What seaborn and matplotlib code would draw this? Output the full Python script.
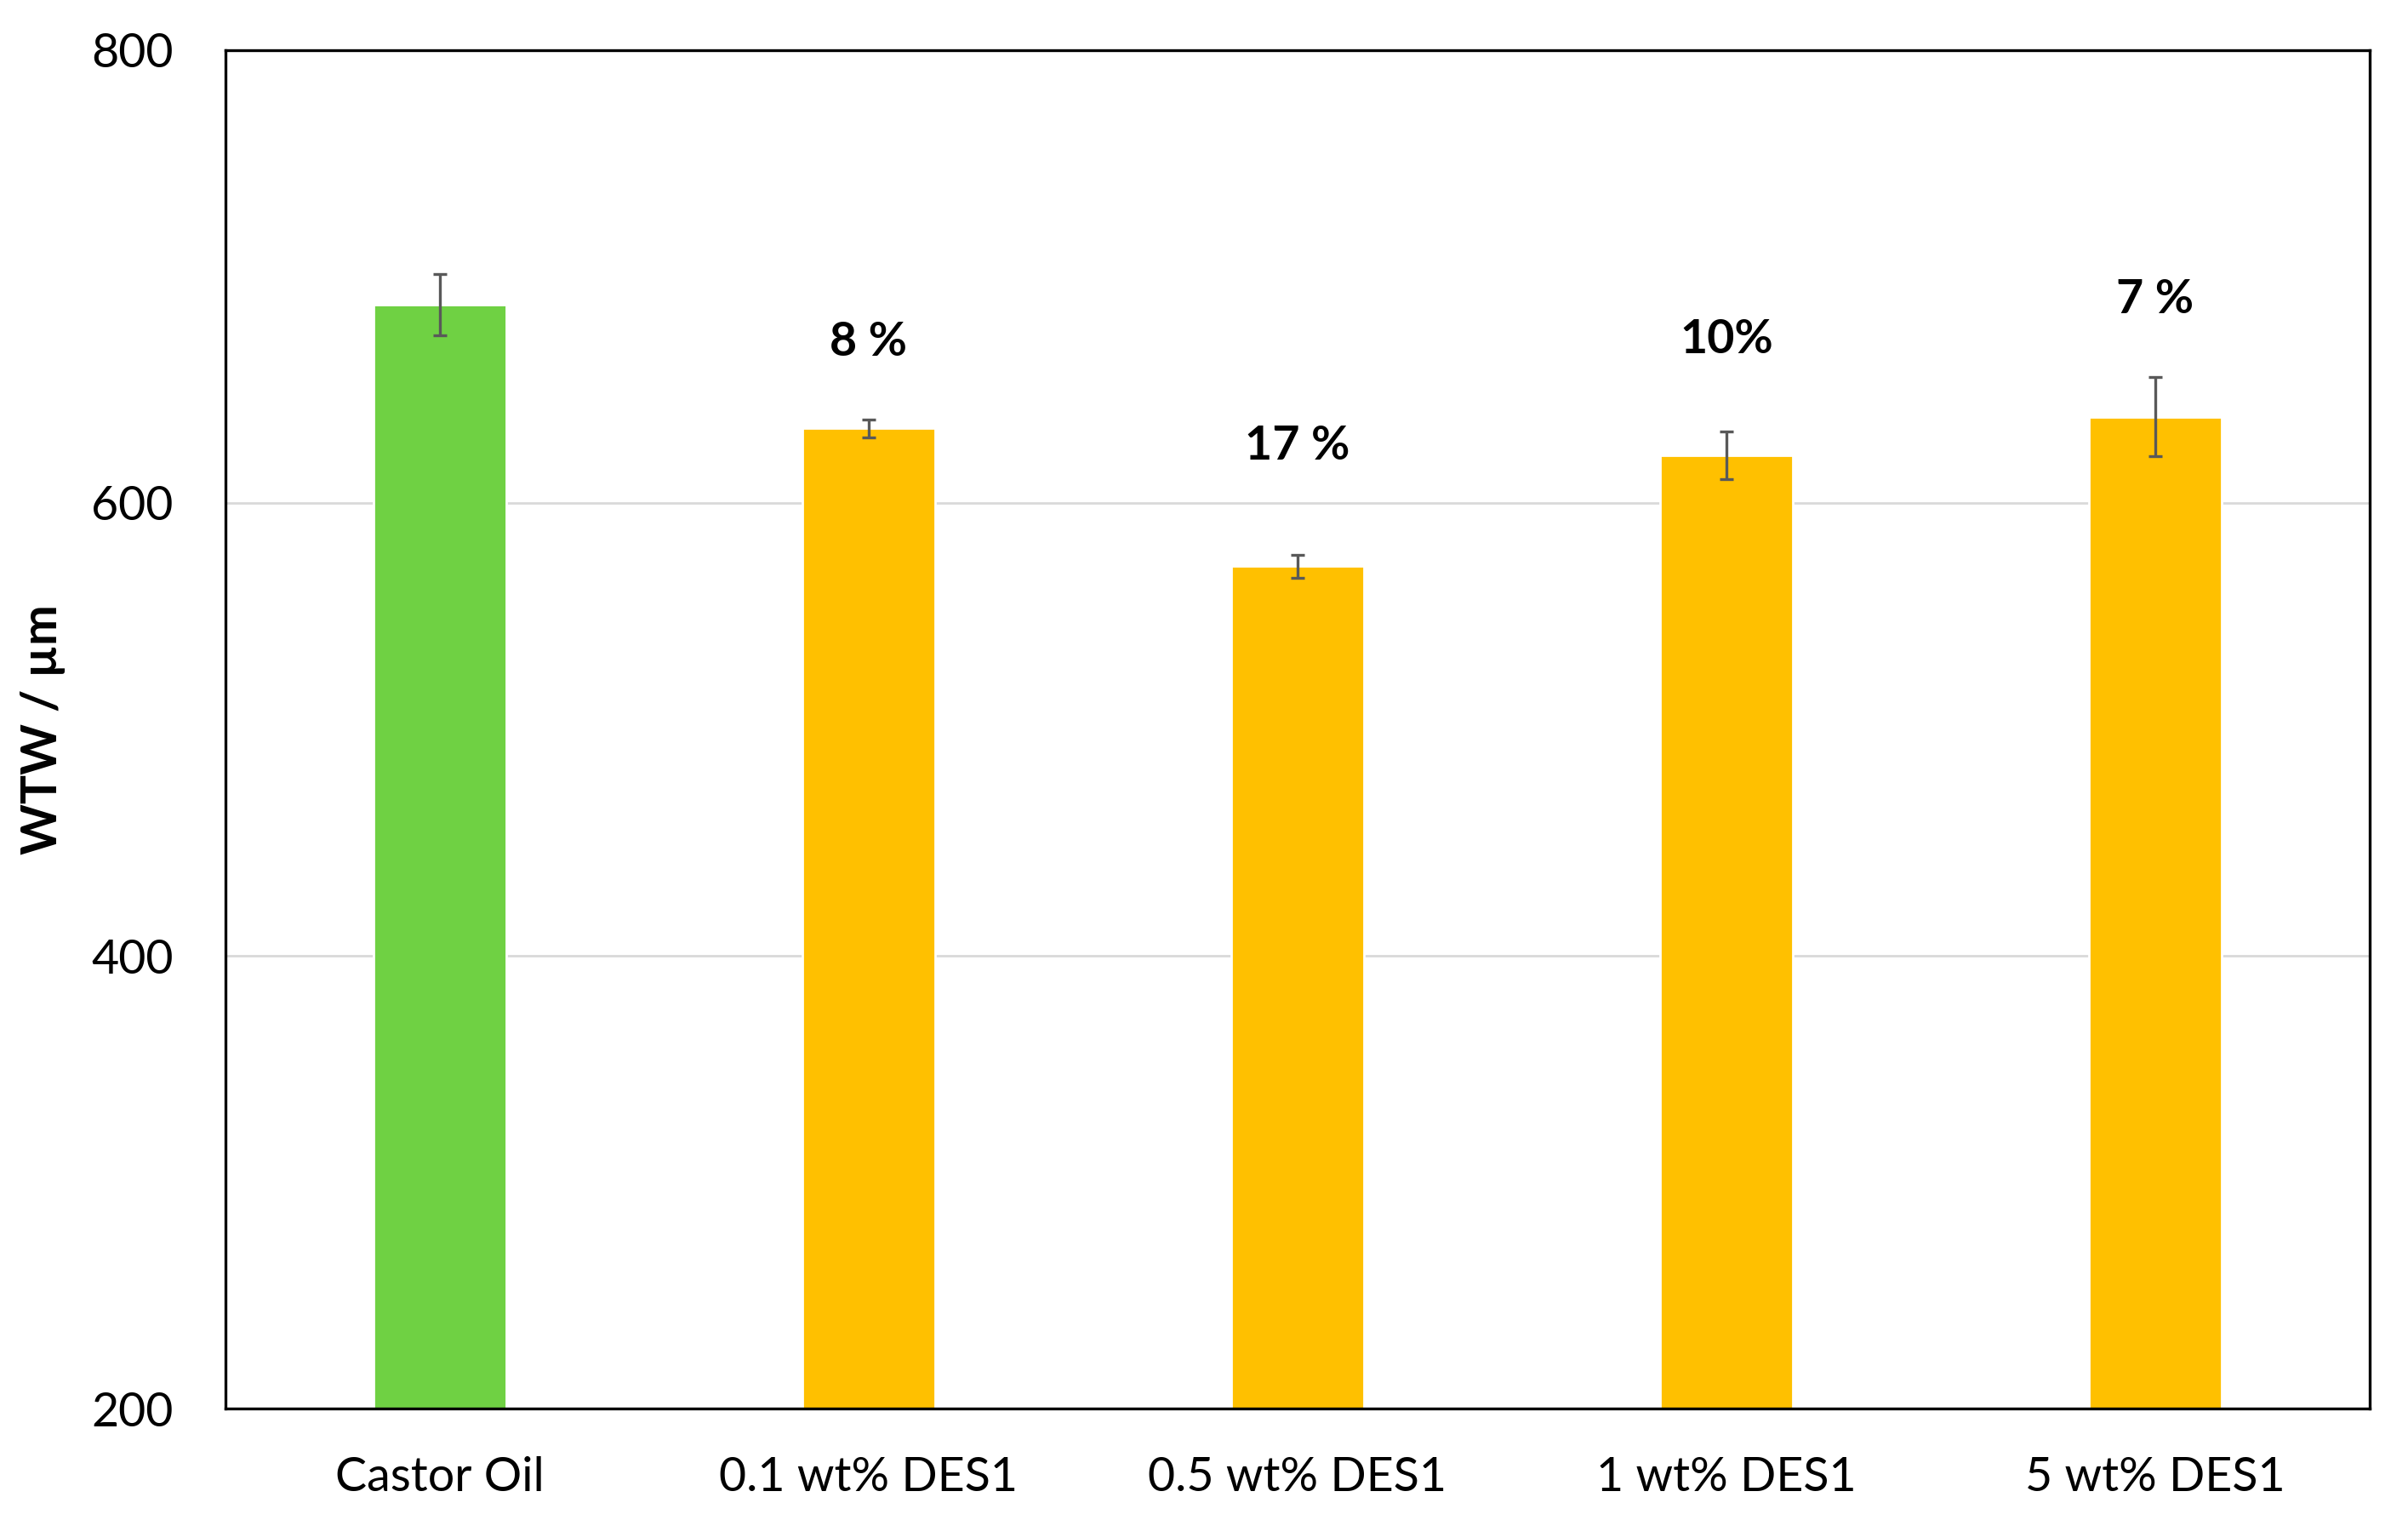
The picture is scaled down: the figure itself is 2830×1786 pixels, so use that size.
import pandas as pd
import matplotlib.pyplot as plt
import seaborn as sns

categories = ["Castor Oil", "0.1 wt% DES1", "0.5 wt% DES1", "1 wt% DES1", "5 wt% DES1"]
wtw = [687.5, 633, 572, 621, 638]
wtw_err = [13.5, 4, 5, 10.5, 17.5]
labels = ["", "8 %", "17 %", "10%", "7 %"]
label_y = [None, 671, 625, 672, 690]
colors = ["#6fd143", "#ffc000", "#ffc000", "#ffc000", "#ffc000"]

df = pd.DataFrame({"sample": categories, "wtw": wtw})

sns.set_style("white")
plt.rcParams['font.family'] = ['Lato', 'DejaVu Sans']
plt.rcParams['text.color'] = 'black'
plt.rcParams['axes.labelcolor'] = 'black'
plt.rcParams['xtick.color'] = 'black'
plt.rcParams['ytick.color'] = 'black'

fig = plt.figure(figsize=(14.15, 8.93), dpi=200)
ax = fig.add_axes([0.0936, 0.0733, 0.8904, 0.8937])

sns.barplot(data=df, x="sample", y="wtw", hue="sample", palette=colors,
            width=0.31, saturation=1, legend=False, ax=ax, zorder=2)
ax.errorbar(range(len(categories)), wtw, yerr=wtw_err, fmt="none",
            ecolor="#595959", elinewidth=1.2, capsize=3, capthick=1.2, zorder=3)

for i, (lab, yy) in enumerate(zip(labels, label_y)):
    if lab:
        ax.text(i, yy, lab, ha="center", va="center", fontsize=20, fontweight="bold")

ax.set_xlim(-0.5, len(categories) - 0.5)
ax.set_ylim(200, 800)
ax.set_yticks([200, 400, 600, 800])
ax.yaxis.grid(True, color="#d9d9d9", linewidth=1, zorder=0)
ax.set_axisbelow(True)
ax.set_xlabel("")
ax.set_ylabel("WTW / µm", fontsize=20.5, fontweight="bold", labelpad=11)
ax.tick_params(axis="y", length=0, pad=22, labelsize=20)
ax.tick_params(axis="x", length=0, pad=20, labelsize=20)
for s in ax.spines.values():
    s.set_visible(True)
    s.set_color("black")
    s.set_linewidth(1.2)

fig.savefig("out.png", dpi=200)
